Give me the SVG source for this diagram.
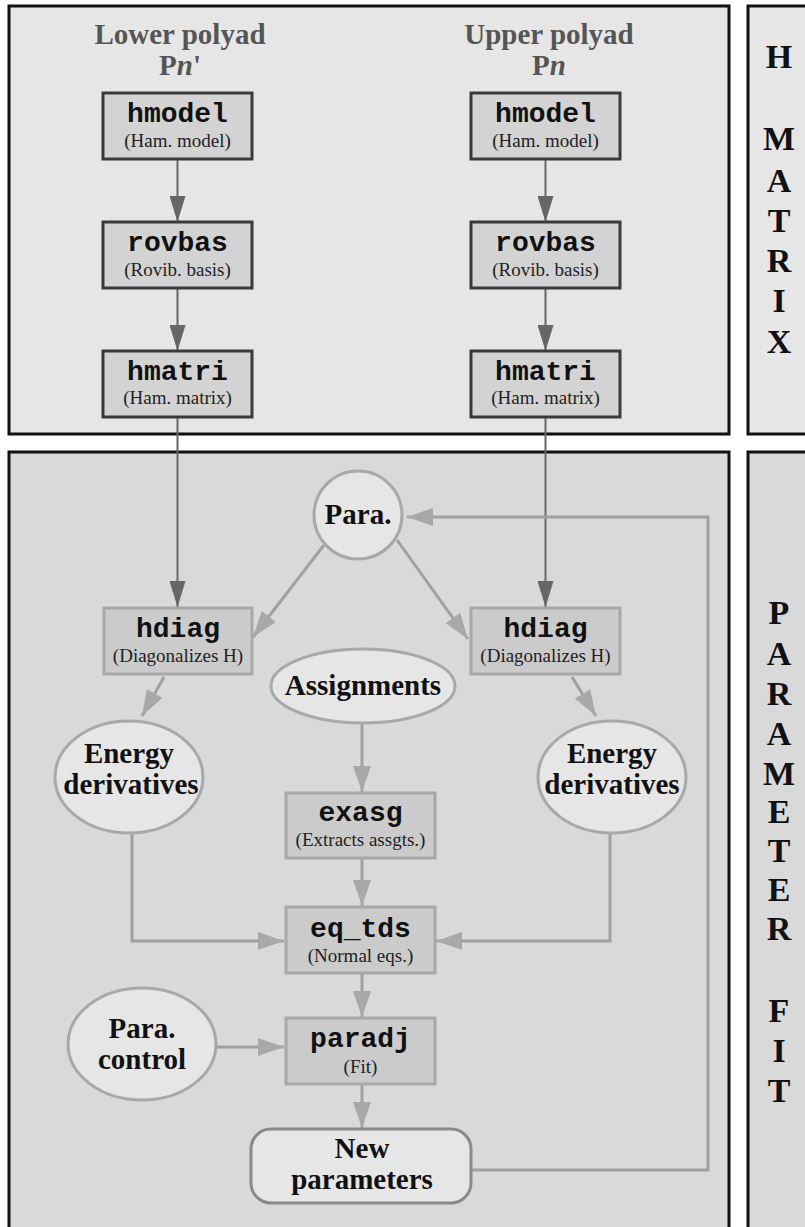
<svg xmlns="http://www.w3.org/2000/svg" width="805" height="1227" viewBox="0 0 805 1227">
<style>
.panel{stroke:#111;stroke-width:3}
.tbox{fill:#d3d3d3;stroke:#3a3a3a;stroke-width:3}
.bbox{fill:#cbcbcb;stroke:#a8a8a8;stroke-width:3}
.ell{fill:#e6e6e6;stroke:#a8a8a8;stroke-width:3}
.mono{font-family:"Liberation Mono",monospace;font-weight:bold;font-size:28px;text-anchor:middle;fill:#111}
.sub{font-family:"Liberation Serif",serif;font-size:19px;text-anchor:middle;fill:#222}
.lbl{font-family:"Liberation Serif",serif;font-weight:bold;font-size:29px;text-anchor:middle;fill:#111}
.head{font-family:"Liberation Serif",serif;font-weight:bold;font-size:29px;text-anchor:middle;fill:#555}
.side{font-family:"Liberation Serif",serif;font-weight:bold;font-size:34px;text-anchor:middle;fill:#111}
.dk{fill:none;stroke:#666;stroke-width:2}
.lt{fill:none;stroke:#a0a0a0;stroke-width:3}
</style>
<defs>
<marker id="ad" viewBox="0 0 26 16" refX="26" refY="8" markerWidth="26" markerHeight="16" markerUnits="userSpaceOnUse" orient="auto"><path d="M0,0 L26,8 L0,16 z" fill="#666"/></marker>
<marker id="al" viewBox="0 0 26 18" refX="26" refY="9" markerWidth="26" markerHeight="18" markerUnits="userSpaceOnUse" orient="auto"><path d="M0,0 L26,9 L0,18 z" fill="#a8a8a8"/></marker>
</defs>
<rect width="805" height="1227" fill="#fff"/>
<g id="panels">
<rect class="panel" x="9" y="6" width="720" height="428" fill="#e6e6e6"/>
<rect class="panel" x="748" y="6" width="70" height="428" fill="#e6e6e6"/>
<rect class="panel" x="9" y="452" width="720" height="790" fill="#d9d9d9"/>
<rect class="panel" x="748" y="452" width="70" height="790" fill="#d9d9d9"/>
</g>
<g id="side-labels">
<text class="side" x="779" y="68">H</text>
<text class="side" x="779" y="150">M</text>
<text class="side" x="779" y="192">A</text>
<text class="side" x="779" y="232">T</text>
<text class="side" x="779" y="272">R</text>
<text class="side" x="779" y="312">I</text>
<text class="side" x="779" y="353">X</text>
<text class="side" x="779" y="624">P</text>
<text class="side" x="779" y="665">A</text>
<text class="side" x="779" y="705">R</text>
<text class="side" x="779" y="745">A</text>
<text class="side" x="779" y="785">M</text>
<text class="side" x="779" y="823">E</text>
<text class="side" x="779" y="862">T</text>
<text class="side" x="779" y="901">E</text>
<text class="side" x="779" y="940">R</text>
<text class="side" x="779" y="1022">F</text>
<text class="side" x="779" y="1062">I</text>
<text class="side" x="779" y="1102">T</text>
</g>
<g id="headers">
<text class="head" x="180" y="44">Lower polyad</text>
<text class="head" x="180" y="75">P<tspan font-style="italic">n</tspan>'</text>
<text class="head" x="549" y="44">Upper polyad</text>
<text class="head" x="549" y="75">P<tspan font-style="italic">n</tspan></text>
</g>
<g id="connectors">
<line class="dk" x1="177.5" y1="160" x2="177.5" y2="222" marker-end="url(#ad)"/>
<line class="dk" x1="177.5" y1="289" x2="177.5" y2="351" marker-end="url(#ad)"/>
<line class="dk" x1="545.5" y1="160" x2="545.5" y2="222" marker-end="url(#ad)"/>
<line class="dk" x1="545.5" y1="289" x2="545.5" y2="351" marker-end="url(#ad)"/>
<line class="dk" x1="177.5" y1="418" x2="177.5" y2="607" marker-end="url(#ad)"/>
<line class="dk" x1="545.5" y1="418" x2="545.5" y2="607" marker-end="url(#ad)"/>
<line class="lt" x1="324" y1="545" x2="253" y2="637" marker-end="url(#al)"/>
<line class="lt" x1="397" y1="540" x2="468" y2="639" marker-end="url(#al)"/>
<line class="lt" x1="164" y1="677" x2="142" y2="716" marker-end="url(#al)"/>
<line class="lt" x1="572" y1="677" x2="596" y2="716" marker-end="url(#al)"/>
<line class="lt" x1="362" y1="723" x2="362" y2="792" marker-end="url(#al)"/>
<line class="lt" x1="362" y1="859" x2="362" y2="906" marker-end="url(#al)"/>
<line class="lt" x1="362" y1="974" x2="362" y2="1017" marker-end="url(#al)"/>
<line class="lt" x1="362" y1="1085" x2="362" y2="1128" marker-end="url(#al)"/>
<polyline class="lt" points="132,833 132,941 284,941" marker-end="url(#al)"/>
<polyline class="lt" points="610,833 610,941 436,941" marker-end="url(#al)"/>
<line class="lt" x1="216" y1="1047" x2="284" y2="1047" marker-end="url(#al)"/>
<polyline class="lt" points="471,1170 708,1170 708,517 407,517" marker-end="url(#al)"/>
</g>
<g id="hmodel-l"><rect class="tbox" x="103" y="93" width="149" height="66"/><text class="mono" x="177.5" y="122">hmodel</text><text class="sub" x="177.5" y="147">(Ham. model)</text></g>
<g id="rovbas-l"><rect class="tbox" x="103" y="222" width="149" height="66"/><text class="mono" x="177.5" y="251">rovbas</text><text class="sub" x="177.5" y="276">(Rovib. basis)</text></g>
<g id="hmatri-l"><rect class="tbox" x="103" y="351" width="149" height="66"/><text class="mono" x="177.5" y="380">hmatri</text><text class="sub" x="177.5" y="404">(Ham. matrix)</text></g>
<g id="hmodel-u"><rect class="tbox" x="471" y="93" width="149" height="66"/><text class="mono" x="545.5" y="122">hmodel</text><text class="sub" x="545.5" y="147">(Ham. model)</text></g>
<g id="rovbas-u"><rect class="tbox" x="471" y="222" width="149" height="66"/><text class="mono" x="545.5" y="251">rovbas</text><text class="sub" x="545.5" y="276">(Rovib. basis)</text></g>
<g id="hmatri-u"><rect class="tbox" x="471" y="351" width="149" height="66"/><text class="mono" x="545.5" y="380">hmatri</text><text class="sub" x="545.5" y="404">(Ham. matrix)</text></g>
<g id="para"><circle class="ell" cx="358" cy="515" r="44"/><text class="lbl" x="358" y="524">Para.</text></g>
<g id="hdiag-l"><rect class="bbox" x="104" y="608" width="148" height="66"/><text class="mono" x="178" y="637" fill="#222">hdiag</text><text class="sub" x="178" y="662">(Diagonalizes H)</text></g>
<g id="hdiag-u"><rect class="bbox" x="471" y="608" width="149" height="66"/><text class="mono" x="545.5" y="637" fill="#222">hdiag</text><text class="sub" x="545.5" y="662">(Diagonalizes H)</text></g>
<g id="assignments"><ellipse class="ell" cx="363" cy="686" rx="92" ry="37"/><text class="lbl" x="363" y="695">Assignments</text></g>
<g id="energy-l"><ellipse class="ell" cx="129" cy="777" rx="74" ry="56"/><text class="lbl" x="129" y="763">Energy</text><text class="lbl" x="131" y="794">derivatives</text></g>
<g id="energy-u"><ellipse class="ell" cx="612" cy="777" rx="74" ry="56"/><text class="lbl" x="612" y="763">Energy</text><text class="lbl" x="612" y="794">derivatives</text></g>
<g id="exasg"><rect class="bbox" x="286" y="793" width="149" height="65"/><text class="mono" x="360.5" y="821">exasg</text><text class="sub" x="360.5" y="846">(Extracts assgts.)</text></g>
<g id="eq_tds"><rect class="bbox" x="286" y="907" width="149" height="66"/><text class="mono" x="360.5" y="937">eq_tds</text><text class="sub" x="360.5" y="962">(Normal eqs.)</text></g>
<g id="paradj"><rect class="bbox" x="286" y="1018" width="149" height="66"/><text class="mono" x="360.5" y="1047">paradj</text><text class="sub" x="360.5" y="1073">(Fit)</text></g>
<g id="para-control"><ellipse class="ell" cx="142" cy="1044" rx="74" ry="56"/><text class="lbl" x="142" y="1038">Para.</text><text class="lbl" x="142" y="1069">control</text></g>
<g id="new-parameters"><rect x="251" y="1129" width="220" height="74" rx="20" fill="#e6e6e6" stroke="#8a8a8a" stroke-width="3"/><text class="lbl" x="362" y="1158">New</text><text class="lbl" x="362" y="1189">parameters</text></g>
</svg>
